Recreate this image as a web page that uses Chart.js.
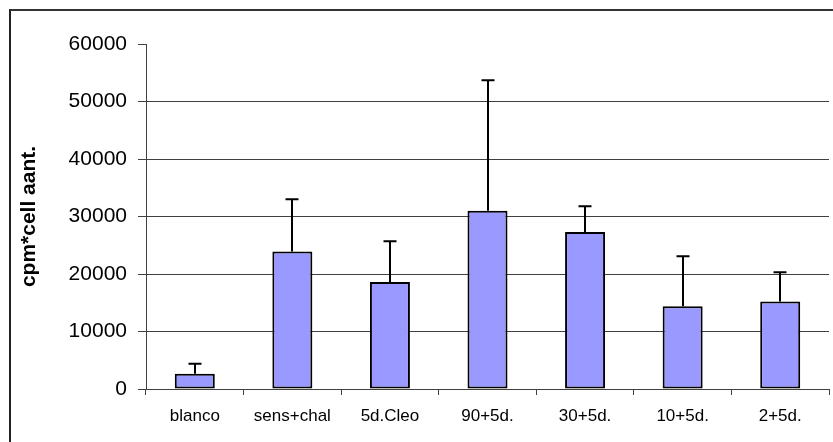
<!DOCTYPE html>
<html>
<head>
<meta charset="utf-8">
<script src="https://cdn.jsdelivr.net/npm/chart.js@4/dist/chart.umd.min.js"></script>
<style>
  html, body { margin: 0; padding: 0; background: #fff; }
  #wrap { position: relative; width: 833px; height: 442px; overflow: hidden; }
  #frame { position: absolute; left: 9px; top: 9px; width: 900px; height: 500px;
           border-left: 2px solid #222; border-top: 2px solid #333; }
  canvas { position: absolute; left: 0; top: 0; }
</style>
</head>
<body>
<div id="wrap">
  <div id="frame"></div>
  <canvas id="c" width="833" height="442"></canvas>
</div>
<script>
const categories = ['blanco', 'sens+chal', '5d.Cleo', '90+5d.', '30+5d.', '10+5d.', '2+5d.'];
const means = [2650, 23900, 18600, 31000, 27300, 14400, 15200];
const errors = [1750, 9100, 7100, 22700, 4500, 8700, 5100];
const yTicks = [0, 10000, 20000, 30000, 40000, 50000, 60000];
const yTitle = 'cpm*cell aant.';

const errorBarPlugin = {
  id: 'errorBars',
  afterDatasetsDraw(chart) {
    const ctx = chart.ctx;
    const meta = chart.getDatasetMeta(0);
    const y = chart.scales.y;
    ctx.save();
    ctx.strokeStyle = '#000';
    ctx.lineWidth = 2;
    meta.data.forEach((bar, i) => {
      const x = Math.round(bar.x);
      const yTop = y.getPixelForValue(means[i]);
      const yErr = y.getPixelForValue(means[i] + errors[i]);
      ctx.beginPath();
      ctx.moveTo(x, yTop);
      ctx.lineTo(x, yErr);
      ctx.moveTo(x - 6.5, yErr);
      ctx.lineTo(x + 6.5, yErr);
      ctx.stroke();
    });
    ctx.restore();
  }
};

new Chart(document.getElementById('c'), {
  type: 'bar',
  data: {
    labels: categories,
    datasets: [{
      data: means,
      backgroundColor: '#9999FF',
      borderColor: '#000',
      borderWidth: 2,
      borderSkipped: false,
      categoryPercentage: 1,
      barPercentage: 0.41
    }]
  },
  options: {
    responsive: false,
    devicePixelRatio: 1,
    animation: false,
    layout: { padding: { top: 44, right: 4, left: 0, bottom: 0 } },
    plugins: { legend: { display: false }, tooltip: { enabled: false } },
    scales: {
      x: {
        afterFit(s) { s.height = 53; },
        grid: { display: true, drawOnChartArea: false, drawTicks: true, tickLength: 6, color: '#404040', offset: true },
        border: { display: true, color: '#404040', width: 1 },
        ticks: { color: '#000', padding: 11, font: { family: 'Liberation Sans, Arial, sans-serif', size: 17 }, maxRotation: 0, autoSkip: false }
      },
      y: {
        min: 0, max: 60000,
        afterFit(s) { s.width = 146; },
        afterBuildTicks(s) { s.ticks = yTicks.map(v => ({ value: v })); },
        grid: {
          color: (c) => (c.tick && (c.tick.value === 0 || c.tick.value === 60000)) ? 'rgba(0,0,0,0)' : '#404040',
          tickColor: '#404040',
          tickLength: 8,
          lineWidth: 1
        },
        border: { display: true, color: '#404040', width: 1 },
        ticks: { color: '#000', padding: 11, font: { family: 'Liberation Sans, Arial, sans-serif', size: 21 }, callback: (v) => String(v) },
        title: { display: true, text: yTitle, color: '#000', padding: { top: 17, bottom: 0 }, font: { family: 'Liberation Sans, Arial, sans-serif', size: 21, weight: 'bold' } }
      }
    }
  },
  plugins: [errorBarPlugin]
});
</script>
</body>
</html>
